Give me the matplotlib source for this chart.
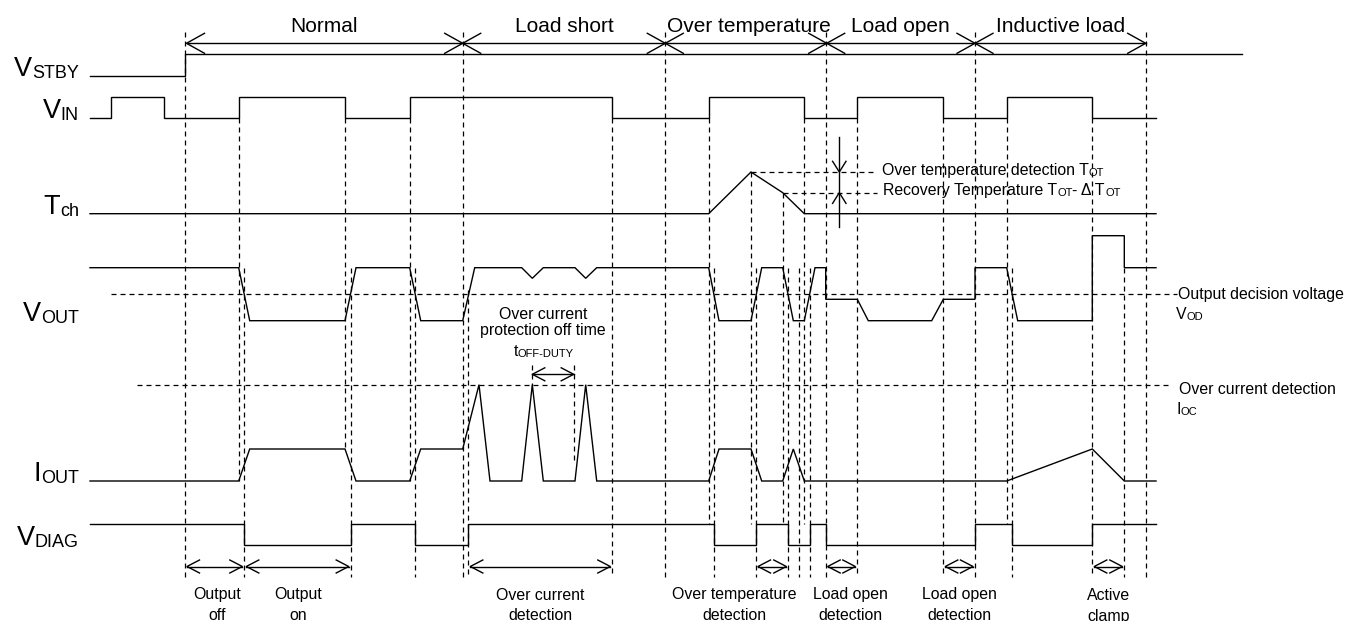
import matplotlib
matplotlib.use("Agg")
import matplotlib.pyplot as plt

plt.rcParams['font.family'] = ['Liberation Sans', 'DejaVu Sans']

# ---------------- data (time axis in diagram units, levels normalised) ----------------
PHASES = ["Normal", "Load short", "Over temperature", "Load open", "Inductive load"]
PHASE_EDGES = [185, 462.7, 665.3, 826.7, 975, 1145.7]

VSTBY_T = [90, 185, 185, 1241.7]
VSTBY_L = [0, 0, 1, 1]

VIN_T = [90, 110.7, 110.7, 163.7, 163.7, 238.7, 238.7, 345, 345, 409.7, 409.7,
         612.3, 612.3, 708.7, 708.7, 804.3, 804.3, 857.3, 857.3, 943.3, 943.3,
         1006.7, 1006.7, 1092.3, 1092.3, 1156]
VIN_L = [0, 0, 1, 1, 0, 0, 1, 1, 0, 0, 1, 1, 0, 0, 1, 1, 0, 0, 1, 1, 0, 0, 1, 1, 0, 0]

TCH_T = [90, 708.7, 751, 782.7, 804.3, 1156]
TCH_L = [0, 0, 1.0, 0.504, 0, 0]

VOUT_T = [90, 238.7, 249.7, 345, 356, 409.7, 420.7, 462.7, 474.7, 521.7, 532.3, 543.3,
          575, 585.7, 596.7, 708.7, 719, 751, 761.7, 782.7, 793.3, 804.3, 815, 825.7,
          825.7, 857.3, 868.3, 931.7, 943.3, 975, 975, 1006.7, 1017.7, 1092.3, 1092.3,
          1124.3, 1124.3, 1156]
VOUT_L = [1, 1, 0, 0, 1, 1, 0, 0, 1, 1, 0.8, 1,
          1, 0.8, 1, 1, 0, 0, 1, 1, 0, 0, 1, 1,
          0.404, 0.404, 0, 0, 0.404, 0.404, 1, 1, 0, 0, 1.604,
          1.604, 1, 1]

IOUT_T = [90, 238.7, 249.7, 345, 356, 409.7, 420.7, 462.7, 479, 490, 521.7, 532.3,
          543.3, 575, 585.7, 596.7, 708.7, 719, 751, 761.7, 782.7, 793.3, 804.3,
          1006.7, 1092.3, 1124.3, 1156]
IOUT_L = [0, 0, 1, 1, 0, 0, 1, 1, 3.01, 0, 0, 3.01,
          0, 0, 3.01, 0, 0, 1, 1, 0, 0, 1, 0,
          0, 1, 0, 0]

VDIAG_T = [90, 244.3, 244.3, 350.7, 350.7, 415, 415, 468.3, 468.3, 714, 714, 756, 756,
           788.3, 788.3, 810, 810, 825.7, 825.7, 975, 975, 1012.3, 1012.3, 1092.3,
           1092.3, 1156]
VDIAG_L = [1, 1, 0, 0, 1, 1, 0, 0, 1, 1, 0, 0, 1,
           1, 0, 0, 1, 1, 0, 0, 1, 1, 0, 0,
           1, 1]

V_OD_LEVEL = 0.504      # on VOUT row
I_OC_LEVEL = 3.01       # on IOUT row
T_OT_LEVEL = 1.0        # on Tch row
T_REC_LEVEL = 0.504     # on Tch row

SIGNAL_MAIN = ["V", "V", "T", "V", "I", "V"]
SIGNAL_SUB = ["STBY", "IN", "ch", "OUT", "OUT", "DIAG"]

BOTTOM_SPANS = [(185, 244.3), (244.3, 350.7), (468.3, 612.3), (756, 788.3),
                (825.7, 857.3), (943.3, 975), (1092.3, 1124.3)]
BOTTOM_LABELS = [("Output", "off"), ("Output", "on"), ("Over current", "detection"),
                 ("Over temperature", "detection"), ("Load open", "detection"),
                 ("Load open", "detection"), ("Active", "clamp")]
T_OFF_SPAN = (531.7, 574.3)

# ---------------- layout ----------------
W, H = 1347, 621
fig = plt.figure(figsize=(W / 100, H / 100), dpi=100)
ax = fig.add_axes([0, 0, 1, 1])
ax.set_xlim(0, W)
ax.set_ylim(H, 0)
ax.axis('off')

ROW_BASE = [75.7, 117.7, 213.7, 320.7, 481, 545]
ROW_AMP = [21.4, 20.7, 41.7, 53, 32, 21]

LW = 1.0
DLW = 0.9
DASH = (0, (4.0, 3.2))
K = 'black'


def ypix(row, lev):
    return ROW_BASE[row] - lev * ROW_AMP[row]


def wave(row, T, L):
    ax.plot(T, [ypix(row, v) for v in L], color=K, lw=LW, solid_joinstyle='miter')


def dline(xs, ys):
    ax.plot(xs, ys, color=K, lw=DLW, linestyle=DASH)


def chev(x, y, d, dx, dy):
    if d == 'left':
        ax.plot([x + dx, x, x + dx], [y - dy, y, y + dy], color=K, lw=LW)
    elif d == 'right':
        ax.plot([x - dx, x, x - dx], [y - dy, y, y + dy], color=K, lw=LW)
    elif d == 'up':
        ax.plot([x - dx, x, x + dx], [y + dy, y, y + dy], color=K, lw=LW)
    else:
        ax.plot([x - dx, x, x + dx], [y - dy, y, y - dy], color=K, lw=LW)


def darrow(x0, x1, y, gap, dx, dy):
    ax.plot([x0 + gap, x1 - gap], [y, y], color=K, lw=LW)
    chev(x0 + gap, y, 'left', dx, dy)
    chev(x1 - gap, y, 'right', dx, dy)


def rich(x, y, parts):
    prev = ax.text(x, y, parts[0][0], fontsize=parts[0][1], ha='left', va='baseline')
    for s, fs in parts[1:]:
        prev = ax.annotate(s, xy=(1, 0), xycoords=prev, fontsize=fs,
                           ha='left', va='bottom')
    return prev


# ---------------- vertical dashed guides ----------------
TOP = 32
BOT = 577
VIN_LOW = ROW_BASE[1]
VGUIDES = [
    (185, TOP, BOT), (462.7, TOP, BOT), (665.3, TOP, BOT), (826.2, TOP, BOT),
    (975, TOP, BOT), (1145.7, TOP, BOT),
    (238.7, VIN_LOW, ypix(4, 0)), (345, VIN_LOW, ypix(4, 1)), (409.7, VIN_LOW, ypix(4, 0)),
    (612.3, VIN_LOW, BOT), (708.7, VIN_LOW, ypix(5, 1)), (804.3, VIN_LOW, ypix(5, 1)),
    (857.3, VIN_LOW, BOT), (943.3, VIN_LOW, BOT), (1006.7, VIN_LOW, ypix(5, 1)),
    (1092.3, VIN_LOW, BOT),
    (751, ypix(2, T_OT_LEVEL), ypix(5, 1)), (782.7, ypix(2, T_REC_LEVEL), ypix(5, 1)),
    (244.3, 268, BOT), (350.7, 268, BOT), (415, 268, BOT), (468.3, 290, BOT),
    (714, 268, BOT), (756, 268, BOT), (788.3, 268, BOT), (799, 268, BOT),
    (810, 268, BOT), (1012.3, 268, BOT), (1124.3, 268, BOT),
    (531.7, 365, ypix(4, I_OC_LEVEL)), (574.3, 365, 463),
]
for x, y0, y1 in VGUIDES:
    dline([x, x], [y0, y1])

# horizontal dashed thresholds
dline([111, 1177], [ypix(3, V_OD_LEVEL)] * 2)
dline([137, 1170], [ypix(4, I_OC_LEVEL)] * 2)
dline([751, 877], [ypix(2, T_OT_LEVEL)] * 2)
dline([782.7, 877], [ypix(2, T_REC_LEVEL)] * 2)

# ---------------- waveforms ----------------
wave(0, VSTBY_T, VSTBY_L)
wave(1, VIN_T, VIN_L)
wave(2, TCH_T, TCH_L)
wave(3, VOUT_T, VOUT_L)
wave(4, IOUT_T, IOUT_L)
wave(5, VDIAG_T, VDIAG_L)

# ---------------- phase arrows and labels (top) ----------------
YA = 43.3
ax.plot([PHASE_EDGES[0] + 1.5, PHASE_EDGES[-1]], [YA, YA], color=K, lw=LW)
for i, e in enumerate(PHASE_EDGES):
    if i > 0:
        chev(e, YA, 'right', 18, 10)
    if i < len(PHASE_EDGES) - 1:
        chev(e + (1.5 if i == 0 else 0), YA, 'left', 18, 10)
for i, name in enumerate(PHASES):
    cx = 0.5 * (PHASE_EDGES[i] + PHASE_EDGES[i + 1])
    if name == "Over temperature":
        cx += 3
    ax.text(cx, 31.7, name, fontsize=15, ha='center', va='baseline')

# ---------------- signal names ----------------
for r, (m, s) in enumerate(zip(SIGNAL_MAIN, SIGNAL_SUB)):
    st = ax.text(79, ROW_BASE[r] + 2, s, fontsize=13, ha='right', va='baseline')
    ax.annotate(m, xy=(0, 0), xycoords=st, fontsize=19.5, ha='right', va='bottom')

# ---------------- Tch annotation ----------------
XA = 839.3
ax.plot([XA, XA], [136.7, 226.7], color=K, lw=LW)
chev(XA, ypix(2, T_OT_LEVEL), 'down', 6.7, 10.7)
chev(XA, ypix(2, T_REC_LEVEL), 'up', 6.7, 10.7)
rich(882, 175, [("Over temperature detection T", 11.4), ("OT", 8)])
rich(883, 195.3, [("Recovery Temperature T", 11.4), ("OT", 8), ("- \u0394 T", 11.4), ("OT", 8)])

# ---------------- right annotations ----------------
ax.text(1178, 299, "Output decision voltage", fontsize=11.4, ha='left', va='baseline')
rich(1175.5, 319, [("V", 11.4), ("OD", 8)])
ax.text(1179, 394, "Over current detection", fontsize=11.4, ha='left', va='baseline')
rich(1176, 414, [("I", 11.4), ("OC", 8)])

# ---------------- over current off time ----------------
ax.text(543, 319, "Over current", fontsize=11.4, ha='center', va='baseline')
ax.text(543, 335, "protection off time", fontsize=11.4, ha='center', va='baseline')
rich(513.5, 355.7, [("t", 11.4), ("OFF-DUTY", 8)])
darrow(T_OFF_SPAN[0], T_OFF_SPAN[1], 374.3, 0.6, 12.5, 6.5)

# ---------------- bottom arrows and labels ----------------
BOTTOM_X = [217, 298.3, 540, 734.5, 850, 959, 1108.3]
for (a, b), (l1, l2), cx in zip(BOTTOM_SPANS, BOTTOM_LABELS, BOTTOM_X):
    darrow(a, b, 566.5, 2, 12.5, 6.5)
    ax.text(cx, 599.5, l1, fontsize=11.4, ha='center', va='baseline')
    ax.text(cx, 620.5, l2, fontsize=11.4, ha='center', va='baseline')

fig.savefig("out.png", dpi=100)
